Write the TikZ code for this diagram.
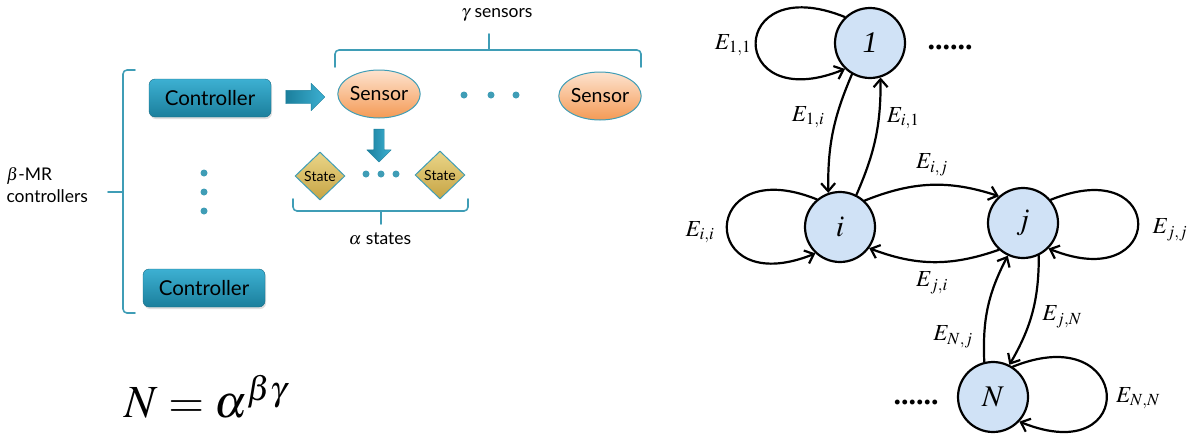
\documentclass[tikz,border=0pt]{standalone}
\usepackage{mathptmx}
\usepackage{fontspec}
\setmainfont{Liberation Serif}
\setsansfont{Lato}
\usetikzlibrary{arrows.meta,shapes.geometric,shapes.arrows,shadows}
\definecolor{ctrldark}{HTML}{1B7F9C}
\definecolor{ctrllight}{HTML}{3DB0D2}
\definecolor{bracecol}{HTML}{3F9DB6}
\definecolor{sensorlight}{HTML}{FDE3CF}
\definecolor{sensordark}{HTML}{F49A55}
\definecolor{statelight}{HTML}{EAD588}
\definecolor{statedark}{HTML}{C6A444}
\definecolor{vtxfill}{HTML}{D0E2F6}
\begin{document}
\begin{tikzpicture}[x=1pt,y=1pt,line join=round,line cap=round,
		>={Straight Barb[length=8pt,width=14pt]},
		ctrl/.style={rounded corners=6pt,draw=ctrldark!85!black,top color=ctrllight,bottom color=ctrldark,
			minimum width=122pt,minimum height=38pt,font=\sffamily\fontsize{20.5}{22}\selectfont,
			drop shadow={opacity=.25,shadow xshift=1pt,shadow yshift=-2pt}},
		sensor/.style={ellipse,draw=bracecol,line width=1pt,top color=sensorlight,bottom color=sensordark,
			minimum width=78pt,minimum height=48pt,inner sep=0pt,font=\sffamily\fontsize{19.5}{21}\selectfont},
		statebox/.style={diamond,draw=bracecol,line width=1pt,top color=statelight,bottom color=statedark,
			minimum width=50pt,minimum height=48pt,inner sep=0pt,font=\sffamily\fontsize{14}{15}\selectfont},
		blockarrow/.style={single arrow,draw=ctrldark,left color=ctrldark,right color=ctrllight,
			inner xsep=0pt,single arrow head extend=7pt},
		brace/.style={draw=bracecol,line width=1.6pt,rounded corners=4pt},
		lbl/.style={font=\sffamily\fontsize{17.5}{22}\selectfont},
		vtx/.style={circle,draw,line width=2.2pt,fill=vtxfill,minimum size=70pt,inner sep=0pt,font=\fontsize{30}{32}\selectfont},
		link/.style={->,line width=2.2pt},
		elbl/.style={font=\fontsize{23}{25}\selectfont}]
	\useasboundingbox (0,0) rectangle (1198,-437);
	% left: controllers, sensors, states
	\node[ctrl] (c1) at (210,-98) {Controller};
	\node[ctrl] (c2) at (204,-288) {Controller};
	\node[blockarrow,minimum height=39pt,inner ysep=6.5pt] (a1) at (302,-97) {};
	\node[sensor] (s1) at (379,-94) {Sensor};
	\node[sensor] (s2) at (600,-96) {Sensor};
	\node[blockarrow,rotate=-90,minimum height=33pt,inner ysep=5pt] (a2) at (379,-143) {};
	\node[statebox] (st1) at (320,-176) {State};
	\node[statebox] (st2) at (440,-175) {State};
	\foreach \x in {464,491,516}
	\fill[bracecol] (\x,-95) circle (3.5);
	\foreach \x in {366,381,396}
	\fill[bracecol] (\x,-174) circle (3.5);
	\foreach \y in {173,192,211}
	\fill[bracecol] (204,-\y) circle (3.5);
	% braces
	\draw[brace] (335,-67) |- (641,-50) -- (641,-67);
	\draw[brace] (489,-50) -- (489,-34);
	\draw[brace] (135,-70) -| (123,-313) -- (135,-313);
	\draw[brace] (123,-192) -- (108,-192);
	\draw[brace] (293,-199) |- (468,-211) -- (468,-199);
	\draw[brace] (381,-211) -- (381,-224);
	\node[lbl] (gam) at (497,-15) {$\gamma$ sensors};
	\node[lbl,align=left,anchor=west] (beta) at (3,-185) {$\beta$-MR\\controllers};
	\node[lbl] (alp) at (380,-239) {$\alpha$ states};
	\node (form) at (206,-397) {\fontsize{46}{55}\selectfont$N=\alpha^{\beta\gamma}$};
	% right: state graph
	\node[vtx] (n1) at (870,-43) {\textit{1}};
	\node[vtx] (ni) at (840,-227) {$i$};
	\node[vtx] (nj) at (1023,-223) {$j$};
	\node[vtx] (nN) at (993,-397) {$N$};
	\node (d1) at (950,-47) {\fontsize{30}{30}\selectfont\bfseries ......};
	\node (d2) at (916,-402) {\fontsize{30}{30}\selectfont\bfseries ......};
	\draw[link] (n1.240) to[bend right=12] (ni.109);
	\draw[link] (ni.63) to[bend right=12] (n1.287);
	\draw[link] (ni.47) to[bend left=20] (nj.132);
	\draw[link] (nj.228) to[bend left=20] (ni.324);
	\draw[link] (nj.296) to[bend left=15] (nN.63);
	\draw[link] (nN.104) to[bend left=15] (nj.245);
	\draw[link] (n1.134) .. controls +(158:128) and +(202:128) .. (n1.226);
	\draw[link] (ni.130) .. controls +(158:128) and +(202:128) .. (ni.227);
	\draw[link] (nj.40) .. controls +(22:127) and +(-22:127) .. (nj.315);
	\draw[link] (nN.57) .. controls +(22:130) and +(-22:130) .. (nN.317);
	\node[elbl] (e11) at (733,-45) {$E_{1,1}$};
	\node[elbl] (e1i) at (808,-117) {$E_{1,i}$};
	\node[elbl] (ei1) at (903,-118) {$E_{i,1}$};
	\node[elbl] (eij) at (932,-165) {$E_{i,j}$};
	\node[elbl] (eji) at (932,-283) {$E_{j,i}$};
	\node[elbl] (ejN) at (1062,-317) {$E_{j,N}$};
	\node[elbl] (eNj) at (953,-337) {$E_{N,j}$};
	\node[elbl] (eii) at (700,-232) {$E_{i,i}$};
	\node[elbl] (ejj) at (1170,-230) {$E_{j,j}$};
	\node[elbl] (eNN) at (1138,-398) {$E_{N,N}$};
\end{tikzpicture}
\end{document}
